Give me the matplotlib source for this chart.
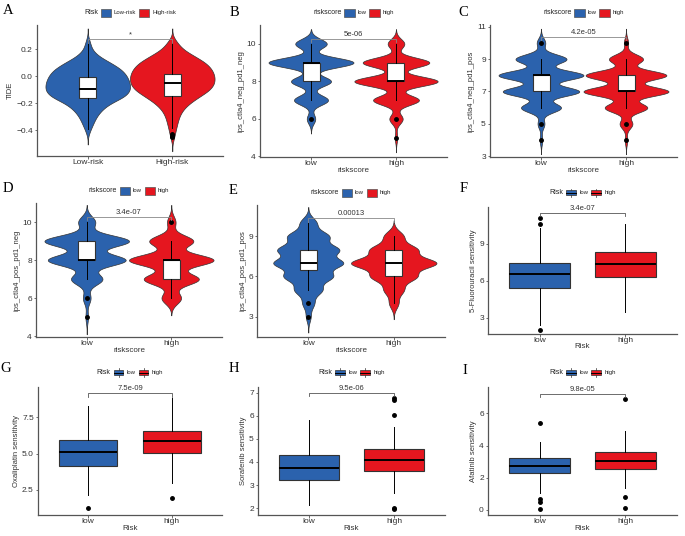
import numpy as np
import matplotlib
matplotlib.use("Agg")
import matplotlib.pyplot as plt
from matplotlib.patches import Rectangle
from matplotlib.lines import Line2D
from matplotlib.offsetbox import AnchoredOffsetbox, HPacker, TextArea, DrawingArea

plt.rcParams["font.family"] = ["Liberation Sans", "DejaVu Sans"]

BLUE = "#2b62ad"
RED = "#e5161f"
COLORS = [BLUE, RED]

# ---------------- data ----------------
# A: TIDE, binned values (step 0.05) and counts
tide_low_vals = [-0.40, -0.35, -0.30, -0.25, -0.20, -0.15, -0.10, -0.05, 0.00, 0.05, 0.10, 0.15, 0.20, 0.25]
tide_low_counts = [6, 13, 20, 32, 51, 89, 100, 98, 92, 80, 54, 24, 9, 6]
tide_high_vals = [-0.45, -0.40, -0.35, -0.30, -0.25, -0.20, -0.15, -0.10, -0.05, 0.00, 0.05, 0.10, 0.15, 0.20, 0.25]
tide_high_counts = [5, 8, 12, 16, 24, 40, 64, 90, 100, 100, 94, 80, 52, 24, 12]
tide_box = [[-0.163, -0.092, -0.003, -0.39, 0.26], [-0.144, -0.052, 0.017, -0.38, 0.25]]
tide_fliers = [[], [-0.43, -0.44, -0.45]]

# B-E: IPS scores (integers) and counts per score
ips_nn_vals = [[6, 7, 8, 9, 10], [5, 6, 7, 8, 9, 10]]
ips_nn_counts = [[10, 40, 47, 100, 37], [3, 16, 55, 100, 80, 20]]
ips_nn_box = [[8, 9, 9, 7, 10], [8, 8, 9, 7, 10]]
ips_nn_fliers = [[6], [6, 5]]

ips_np_vals = [[4, 5, 6, 7, 8, 9, 10], [4, 5, 6, 7, 8, 9, 10]]
ips_np_counts = [[3, 8, 47, 90, 100, 60, 10], [3, 15, 50, 100, 95, 40, 5]]
ips_np_box = [[7, 8, 8, 6, 9], [7, 7, 8, 6, 9]]
ips_np_fliers = [[5, 4, 10], [5, 4, 10]]

ips_pn_vals = [[5, 6, 7, 8, 9, 10], [6, 7, 8, 9, 10]]
ips_pn_counts = [[3, 9, 37, 92, 100, 20], [23, 65, 100, 52, 10]]
ips_pn_box = [[8, 8, 9, 7, 10], [7, 8, 8, 6, 9]]
ips_pn_fliers = [[6, 5], [10]]

ips_pp_vals = [[3, 4, 5, 6, 7, 8, 9, 10], [4, 5, 6, 7, 8, 9]]
ips_pp_counts = [[7, 17, 40, 70, 100, 88, 60, 24], [11, 23, 53, 100, 55, 23]]
ips_pp_box = [[6.5, 7, 8, 5, 10], [6, 7, 8, 4, 9]]
ips_pp_fliers = [[4, 3], []]

# F-I: drug sensitivity boxplots  [q1, median, q3, whisker low, whisker high]
fu_box = [[5.41, 6.54, 7.41, 2.43, 10.27], [6.32, 7.38, 8.35, 3.46, 10.54]]
fu_fliers = [[2.05, 10.55, 11.05], []]
oxa_box = [[4.14, 5.09, 5.95, 2.11, 8.32], [5.05, 5.9, 6.59, 2.95, 8.82]]
oxa_fliers = [[1.2], [1.95]]
sora_box = [[3.21, 3.75, 4.3, 2.14, 5.83], [3.59, 4.09, 4.57, 2.64, 5.53]]
sora_fliers = [[], [6.05, 6.67, 6.75, 2.0, 1.97]]
afa_box = [[2.27, 2.72, 3.2, 1.05, 4.2], [2.52, 3.05, 3.61, 1.36, 4.91]]
afa_fliers = [[5.38, 0.64, 0.47, 0.04], [6.91, 0.78, 0.1]]

pvals = ["*", "5e-06", "4.2e-05", "3.4e-07", "0.00013", "3.4e-07", "7.5e-09", "9.5e-06", "9.8e-05"]

W, H = 685, 536
fig = plt.figure(figsize=(W / 100, H / 100), dpi=100)


def add_ax(l, t, r, b):
    ax = fig.add_axes([l / W, 1 - b / H, (r - l) / W, (b - t) / H])
    for s in ["top", "right"]:
        ax.spines[s].set_visible(False)
    for s in ["left", "bottom"]:
        ax.spines[s].set_color("#555555")
        ax.spines[s].set_linewidth(0.9)
    ax.tick_params(length=1.8, width=0.6, color="#555555", labelsize=6, labelcolor="#333333", pad=1.2)
    ax.tick_params(axis="x", pad=0.5)
    ax.set_xlim(0.4, 2.6)
    ax.set_xticks([1, 2])
    return ax


def kde(values, counts, bw):
    v = np.asarray(values, float)
    c = np.asarray(counts, float)
    y = np.linspace(v.min() - 3 * bw, v.max() + 3 * bw, 400)
    d = (c * np.exp(-0.5 * ((y[:, None] - v) / bw) ** 2)).sum(axis=1)
    d /= c.sum() * bw * np.sqrt(2 * np.pi)
    med = np.repeat(v, c.astype(int))
    return dict(coords=y, vals=d, mean=np.average(v, weights=c), median=np.median(med),
                min=y[0], max=y[-1])


def violins(ax, vals, counts, bw, widths):
    st = [kde(v, c, bw) for v, c in zip(vals, counts)]
    parts = ax.violin(st, positions=[1, 2], widths=widths, showextrema=False)
    for body, col in zip(parts["bodies"], COLORS):
        body.set_facecolor(col)
        body.set_edgecolor("#333333")
        body.set_linewidth(0.5)
        body.set_alpha(1)


def boxes(ax, box, fliers, width, fills):
    stats = []
    for s, f in zip(box, fliers):
        stats.append(dict(q1=s[0], med=s[1], q3=s[2], whislo=s[3], whishi=s[4], fliers=f))
    bp = ax.bxp(stats, positions=[1, 2], widths=width, patch_artist=True, showcaps=False,
                boxprops=dict(edgecolor="#333333", linewidth=0.8),
                medianprops=dict(color="black", linewidth=1.4),
                whiskerprops=dict(color="black", linewidth=0.7),
                flierprops=dict(marker="o", markerfacecolor="black", markeredgecolor="black",
                                markersize=2.5, linestyle="none"))
    for patch, col in zip(bp["boxes"], fills):
        patch.set_facecolor(col)


def bracket(ax, y, label, color="#888888"):
    lo, hi = ax.get_ylim()
    d = 0.025 * (hi - lo)
    ax.plot([1, 1, 2, 2], [y - d, y, y, y - d], color=color, lw=0.6)
    ax.text(1.5, y + 0.008 * (hi - lo), label, ha="center", va="bottom", fontsize=5.5, color="#333333")


def legend(ax, title, labels, yoff, box_key=False):
    kids = [TextArea(title, textprops=dict(size=5, color="#222222"))]
    for lab, col in zip(labels, COLORS):
        da = DrawingArea(7.5, 6, 0, 0)
        if box_key:
            da.add_artist(Line2D([3.75, 3.75], [0, 6], color="#333333", lw=0.5))
            da.add_artist(Rectangle((0.3, 1.4), 6.9, 3.2, fc=col, ec="#333333", lw=0.5))
            da.add_artist(Line2D([0.3, 7.2], [3, 3], color="black", lw=0.7))
        else:
            da.add_artist(Rectangle((0, 0), 7.5, 6, fc=col, ec="#555555", lw=0.5))
        kids += [da, TextArea(lab, textprops=dict(size=4.3, color="#222222"))]
    pack = HPacker(children=kids, align="center", pad=0, sep=2)
    ab = AnchoredOffsetbox(loc="lower center", child=pack, pad=0, borderpad=0, frameon=False,
                           bbox_to_anchor=(0.5, 1.0 + yoff), bbox_transform=ax.transAxes)
    ax.add_artist(ab)


def letter(x, y, s):
    fig.text(x / W, 1 - y / H, s, family="Liberation Serif", fontsize=10.5, ha="left", va="center")


# ---------------- A ----------------
ax = add_ax(37, 25, 223, 156)
ax.set_ylim(-0.59, 0.38)
violins(ax, [tide_low_vals, tide_high_vals], [tide_low_counts, tide_high_counts], 0.035, [1.0, 1.0])
boxes(ax, tide_box, tide_fliers, 0.2, ["white", "white"])
ax.set_yticks([-0.4, -0.2, 0.0, 0.2])
ax.set_xticks([1, 2], ["Low-risk", "High-risk"], fontsize=6)
ax.set_ylabel("TIDE", fontsize=5.5, color="#333333", labelpad=1.5)
bracket(ax, 0.274, pvals[0])
legend(ax, "Risk", ["Low-risk", "High-risk"], 0.06)
letter(3, 10, "A")

# ---------------- B-E ----------------
violin_panels = [
    ((260, 25, 447, 157), (3.97, 11.0), [4, 6, 8, 10], ips_nn_vals, ips_nn_counts, 0.26, [1.0, 0.98],
     ips_nn_box, ips_nn_fliers, "ips_ctla4_neg_pd1_neg", 10.27, pvals[1], (230, 12, "B")),
    ((490, 25, 677, 157), (2.96, 11.1), [3, 5, 7, 9, 11], ips_np_vals, ips_np_counts, 0.29, [1.0, 1.0],
     ips_np_box, ips_np_fliers, "ips_ctla4_neg_pd1_pos", 10.38, pvals[2], (458, 12, "C")),
    ((36, 203, 222, 337), (3.96, 11.0), [4, 6, 8, 10], ips_pn_vals, ips_pn_counts, 0.30, [1.0, 1.0],
     ips_pn_box, ips_pn_fliers, "ips_ctla4_pos_pd1_neg", 10.26, pvals[3], (3, 188, "D")),
    ((257, 205, 445, 337), (1.47, 11.35), [3, 6, 9], ips_pp_vals, ips_pp_counts, 0.40, [0.82, 1.0],
     ips_pp_box, ips_pp_fliers, "ips_ctla4_pos_pd1_pos", 10.35, pvals[4], (229, 190, "E")),
]
for pos, ylim, yt, vals, counts, bw, vw, box, fl, ylab, by, p, (lx, ly, ls) in violin_panels:
    ax = add_ax(*pos)
    ax.set_ylim(*ylim)
    violins(ax, vals, counts, bw, vw)
    boxes(ax, box, fl, 0.2, ["white", "white"])
    ax.set_yticks(yt)
    ax.set_xticks([1, 2], ["low", "high"], fontsize=6)
    ax.set_ylabel(ylab, fontsize=5.5, color="#333333", labelpad=1.5)
    ax.set_xlabel("riskscore", fontsize=5.8, color="#333333", labelpad=-0.5)
    bracket(ax, by, p)
    legend(ax, "riskscore", ["low", "high"], 0.06)
    letter(lx, ly, ls)

# ---------------- F-I ----------------
box_panels = [
    ((488, 207, 677, 334), (1.69, 11.95), [3, 6, 9], ["3", "6", "9"], fu_box, fu_fliers,
     "5-Fluorouracil sensitivity", 11.5, pvals[5], (460, 188, "F")),
    ((38, 387, 222, 515), (0.75, 9.6), [2.5, 5.0, 7.5], ["2.5", "5.0", "7.5"], oxa_box, oxa_fliers,
     "Oxaliplatin sensitivity", 9.16, pvals[6], (0, 368, "G")),
    ((258, 387, 445, 515), (1.71, 7.24), [2, 3, 4, 5, 6, 7], ["2", "3", "4", "5", "6", "7"], sora_box,
     sora_fliers, "Sorafenib sensitivity", 7.0, pvals[7], (229, 368, "H")),
    ((488, 387, 677, 515), (-0.33, 7.65), [0, 2, 4, 6], ["0", "2", "4", "6"], afa_box, afa_fliers,
     "Afatinib sensitivity", 7.2, pvals[8], (462, 370, "I")),
]
for pos, ylim, yt, ytl, box, fl, ylab, by, p, (lx, ly, ls) in box_panels:
    ax = add_ax(*pos)
    ax.set_ylim(*ylim)
    boxes(ax, box, fl, 0.7, COLORS)
    ax.set_yticks(yt, ytl)
    ax.set_xticks([1, 2], ["low", "high"], fontsize=6)
    ax.set_ylabel(ylab, fontsize=5.5, color="#333333", labelpad=1.5)
    ax.set_xlabel("Risk", fontsize=5.8, color="#333333", labelpad=-0.5)
    bracket(ax, by, p, color="#555555")
    legend(ax, "Risk", ["low", "high"], 0.08, box_key=True)
    letter(lx, ly, ls)

fig.savefig("out.png", dpi=100)
